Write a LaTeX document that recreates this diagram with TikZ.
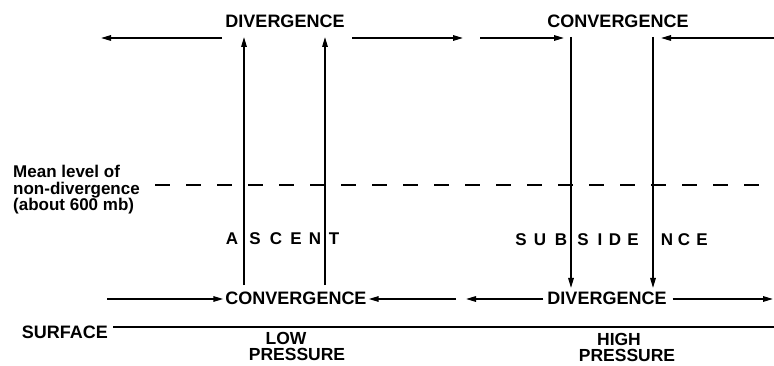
\documentclass[tikz,border=0pt]{standalone}
\usepackage{fontspec}
\setmainfont{Liberation Sans}
\usetikzlibrary{arrows.meta}
\begin{document}
\begin{tikzpicture}[x=1pt,y=-1pt,
  lbl/.style={font=\bfseries\fontsize{18}{16}\selectfont, inner sep=0pt, anchor=base},
  two/.style={font=\bfseries\fontsize{17.5}{16.5}\selectfont, inner sep=0pt, align=center, anchor=north},
  spc/.style={font=\bfseries\fontsize{17}{17}\selectfont, inner sep=0pt, anchor=base},
  flow/.style={line width=1.5pt, -{Triangle[length=10pt,width=5.5pt]}},
  plain/.style={line width=1.5pt}]
\useasboundingbox (0,0) rectangle (774,366);
% labels
\node[lbl] (tdiv) at (285,28) {DIVERGENCE};
\node[lbl] (tconv) at (618,28) {CONVERGENCE};
\node[lbl] (bconv) at (296,305) {CONVERGENCE};
\node[lbl] (bdiv) at (607,305) {DIVERGENCE};
\node[lbl, anchor=base east] (surf) at (108,338) {SURFACE};
\node[two] (lowp) at (297,332) {LOW\hspace*{22pt}\\PRESSURE};
\node[two] (highp) at (627,333) {HIGH\hspace*{16pt}\\PRESSURE};
\node[font=\bfseries\fontsize{17}{16.5}\selectfont, inner sep=0pt, anchor=west, align=left] (mean) at (13,190)
  {Mean level of\\non-divergence\\(about 600 mb)};
% ASCENT letters
\foreach \c/\x [count=\i] in {A/232,S/255,C/276,E/296,N/315,T/334}
  \node[spc] (as\i) at (\x,245) {\c};
\foreach \c/\x [count=\i] in {S/521,U/540,B/561,S/583,I/600,D/615,E/633,N/667,C/684,E/702}
  \node[spc] (su\i) at (\x,246) {\c};
% coordinates
\coordinate (a1) at (222,38); \coordinate (a2) at (101,38);
\coordinate (b1) at (352,38); \coordinate (b2) at (463,38);
\coordinate (c1) at (480,38); \coordinate (c2) at (564,38);
\coordinate (d1) at (774,38); \coordinate (d2) at (661,38);
\coordinate (u1b) at (244,285); \coordinate (u1t) at (244,37);
\coordinate (u2b) at (325,285); \coordinate (u2t) at (325,37);
\coordinate (v1t) at (571,37); \coordinate (v1b) at (571,288);
\coordinate (v2t) at (653,37); \coordinate (v2b) at (653,288);
\coordinate (e1) at (107,299); \coordinate (e2) at (bconv.west |- 0,299);
\coordinate (f1) at (456,299); \coordinate (f2) at (bconv.east |- 0,299);
\coordinate (g1) at (bdiv.west |- 0,299); \coordinate (g2) at (466,299);
\coordinate (h1) at (bdiv.east |- 0,299); \coordinate (h2) at (773,299);
\coordinate (s1) at (113,327); \coordinate (s2) at (774,327);
\coordinate (m1) at (155,185); \coordinate (m2) at (764,185);
% arrows
\draw[flow] (a1) -- (a2);
\draw[flow] (b1) -- (b2);
\draw[flow] (c1) -- (c2);
\draw[flow] (d1) -- (d2);
\draw[flow] (u1b) -- (u1t);
\draw[flow] (u2b) -- (u2t);
\draw[flow] (v1t) -- (v1b);
\draw[flow] (v2t) -- (v2b);
\draw[flow] (e1) -- ([xshift=-2pt]e2);
\draw[flow] (f1) -- ([xshift=2pt]f2);
\draw[flow] ([xshift=-4pt]g1) -- (g2);
\draw[flow] ([xshift=6pt]h1) -- (h2);
\draw[plain] (s1) -- (s2);
\draw[plain, dash pattern=on 15pt off 16pt] (m1) -- (m2);
\end{tikzpicture}
\end{document}
